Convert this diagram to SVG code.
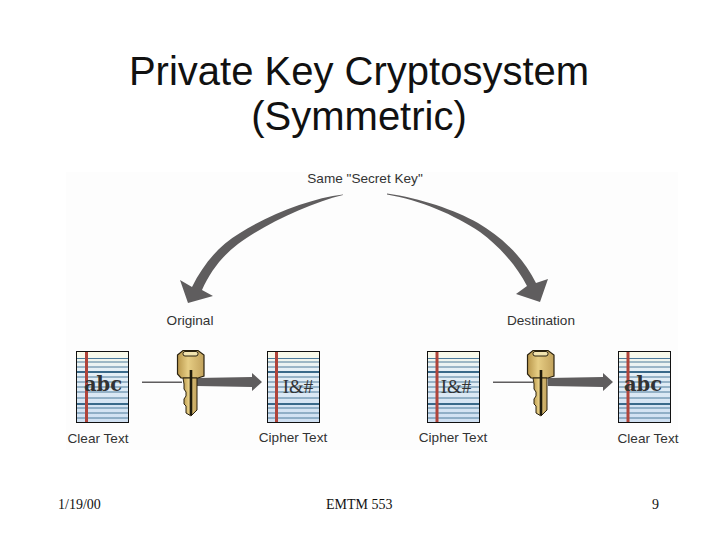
<svg xmlns="http://www.w3.org/2000/svg" width="720" height="540" viewBox="0 0 720 540">
<style>
.title{font:40px "Liberation Sans",Arial,sans-serif;fill:#111;text-anchor:middle}
.lab{font:13.6px "Liberation Sans",Arial,sans-serif;fill:#333;text-anchor:middle}
.foot{font:14px "Liberation Serif","Times New Roman",serif;fill:#111}
.abc{font:bold 19.5px "DejaVu Serif",serif;fill:#333;text-anchor:middle}
.sym{font:19px "Liberation Serif",serif;fill:#333;text-anchor:middle}
.arrow{fill:#5f5d5e}
.thin{stroke:#4c7b9a;stroke-width:1;fill:none}
.thick{stroke:#3a6a8a;stroke-width:2;fill:none}
.margin{stroke:#b0443a;stroke-width:3;fill:none}
</style>
<defs>
<linearGradient id="paper" x1="0" y1="0" x2="0" y2="1"><stop offset="0" stop-color="#fbfbe8"/><stop offset="0.25" stop-color="#e6f0f6"/><stop offset="1" stop-color="#cfe0f2"/></linearGradient>
<linearGradient id="brass" x1="0" y1="0" x2="1" y2="0"><stop offset="0" stop-color="#b8964a"/><stop offset="0.4" stop-color="#e6cd84"/><stop offset="1" stop-color="#c2a25c"/></linearGradient>
<g id="page">
<rect x="0.5" y="0.5" width="52" height="71" fill="url(#paper)" stroke="#111" stroke-width="1"/>
<path class="thin" d="M1 7.5H52M1 11H52M1 16H52M1 26H52M1 31H52M1 36H52M1 41H52M1 47H52M1 57H52M1 62H52M1 67H52"/>
<path class="thick" d="M1 21H52M1 53H52"/>
</g>
<g id="key">
<path d="M1.5 5L7 0.5H22L28 5V26L22 28H5L1.5 24Z" fill="url(#brass)" stroke="#2a2210" stroke-width="1.2"/>
<rect x="7" y="1.5" width="15" height="4.5" rx="2" fill="#f2e4b0" stroke="#2a2210" stroke-width="1"/>
<path d="M7 28H21V60L15 66L10 63V56L8 54V49L10 46V42L8 39V34Z" fill="url(#brass)" stroke="#2a2210" stroke-width="1"/>
<path d="M15 20V65" stroke="#1e1a0c" stroke-width="2.6"/>
</g>
<g id="straight">
<path d="M0 381.5H40V383H0Z" class="arrow"/>
<path d="M55 378L110 377V373L120 382L110 391V387L55 386Z" class="arrow"/>
</g>
</defs>
<rect width="720" height="540" fill="#fff"/>
<rect x="66" y="172" width="612" height="278" fill="#fdfdfd"/>
<text class="title" x="359" y="85">Private Key Cryptosystem</text>
<text class="title" x="359" y="130">(Symmetric)</text>
<g id="connectors">
<path class="arrow" d="M343 194.5C312 198 270 214 240 233C218 246 203 265 192 287L180 280L188 303L213 296L202 290C210 272 222 256 238 244C265 224 310 203 343 195Z"/>
<path class="arrow" d="M387 193.5C420 198 455 210 478 223C500 236 522 255 536 283L548 279L540 302L516 294L527 286C516 265 500 247 480 232C455 215 420 200 387 194.5Z"/>
<use href="#straight" x="142"/>
<use href="#straight" x="493"/>
</g>
<g id="same-secret-key"><text class="lab" x="365" y="183">Same "Secret Key"</text></g>
<g id="original"><text class="lab" x="190" y="325">Original</text></g>
<g id="destination"><text class="lab" x="541" y="325">Destination</text></g>
<g id="clear-left">
<use href="#page" x="76" y="351"/>
<path class="margin" d="M86.5 352V422"/>
<text class="abc" x="103" y="391">abc</text>
<text class="lab" x="98" y="443">Clear Text</text>
</g>
<g id="key-left"><use href="#key" x="176" y="350"/></g>
<g id="cipher-left">
<use href="#page" x="267" y="351"/>
<path class="margin" d="M276.5 352V422" stroke-width="2"/>
<text class="sym" x="298" y="393">I&amp;#</text>
<text class="lab" x="293" y="442">Cipher Text</text>
</g>
<g id="cipher-right">
<use href="#page" x="427" y="351"/>
<path class="margin" d="M437 352V422" stroke-width="2"/>
<text class="sym" x="456" y="393" font-style="italic">I&amp;#</text>
<text class="lab" x="453" y="442">Cipher Text</text>
</g>
<g id="key-right"><use href="#key" x="526" y="350"/></g>
<g id="clear-right">
<use href="#page" x="618" y="351"/>
<path class="margin" d="M628 352V422"/>
<text class="abc" x="643" y="391">abc</text>
<text class="lab" x="648" y="443">Clear Text</text>
</g>
<text class="foot" x="58" y="509">1/19/00</text>
<text class="foot" x="326" y="509">EMTM 553</text>
<text class="foot" x="652" y="509">9</text>
</svg>
